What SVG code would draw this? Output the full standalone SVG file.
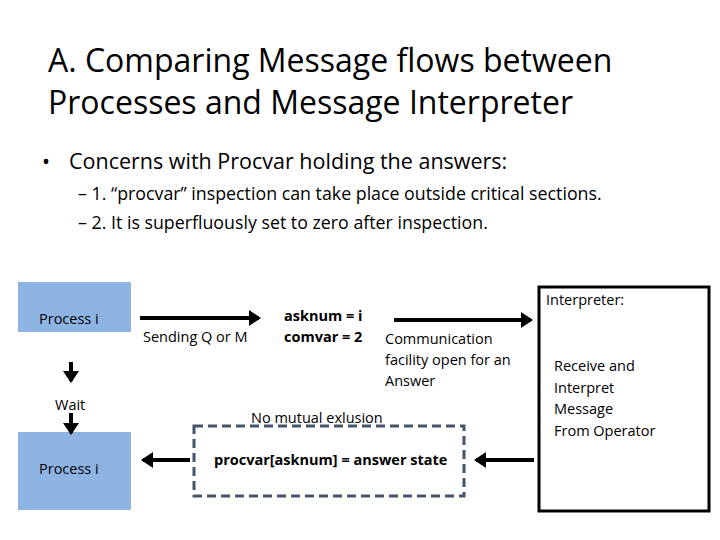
<svg xmlns="http://www.w3.org/2000/svg" width="720" height="540" viewBox="0 0 720 540">
<style>
text{font-family:"Open Sans","Liberation Sans",sans-serif;fill:#000}
.t{font-size:32px}
.b{font-size:21.5px}
.s{font-size:17.8px}
.n{font-size:14.5px}
.bd{font-size:14.5px;font-weight:bold}
.proc{fill:#8eb4e3}
.ar{stroke:#000;stroke-width:4;fill:none}
</style>
<defs><marker id="ah" markerWidth="4" markerHeight="4" refX="2.5" refY="2" orient="auto"><path d="M0,0L3,2L0,4z" fill="#000"/></marker></defs>
<rect width="720" height="540" fill="#fff"/>
<text class="t" x="48" y="72">A. Comparing Message flows between</text>
<text class="t" x="48" y="114">Processes and Message Interpreter</text>
<text class="b" x="42" y="169">•</text>
<text class="b" x="69" y="169">Concerns with Procvar holding the answers:</text>
<text class="s" x="78" y="200">– 1.  “procvar” inspection can take place outside critical sections.</text>
<text class="s" x="78" y="229">– 2.  It is superfluously set to zero after inspection.</text>
<g id="p1"><rect class="proc" x="18" y="282" width="113" height="50"/><text class="n" x="39" y="324">Process i</text></g>
<g id="p2"><rect class="proc" x="18" y="432" width="113" height="78"/><text class="n" x="39" y="474">Process i</text></g>
<g id="interp"><rect x="539" y="287" width="170" height="224" fill="#fff" stroke="#000" stroke-width="3"/>
<text class="n" x="546" y="305">Interpreter:</text>
<text class="n" x="554" y="371">Receive and</text><text class="n" x="554" y="393">Interpret</text><text class="n" x="554" y="414">Message</text><text class="n" x="554" y="436">From Operator</text></g>
<g id="state"><rect x="194" y="426" width="270" height="70" fill="none" stroke="#44546a" stroke-width="3" stroke-dasharray="9,5"/>
<text class="bd" x="214" y="465">procvar[asknum] = answer state</text></g>
<g id="labels">
<text class="n" x="143" y="342">Sending Q or M</text>
<text class="bd" x="284" y="321">asknum = i</text><text class="bd" x="284" y="342">comvar = 2</text>
<text class="n" x="385" y="344">Communication</text><text class="n" x="385" y="365">facility open for an</text><text class="n" x="385" y="386">Answer</text>
<text class="n" x="55" y="410">Wait</text>
<text class="n" x="251" y="423">No mutual exlusion</text>
</g>
<g id="connectors">
<line class="ar" x1="140" y1="318" x2="259" y2="318" marker-end="url(#ah)"/>
<line class="ar" x1="394" y1="320" x2="531" y2="320" marker-end="url(#ah)"/>
<line class="ar" x1="71" y1="362" x2="71" y2="381" marker-end="url(#ah)"/>
<line class="ar" x1="71" y1="413" x2="71" y2="433" marker-end="url(#ah)"/>
<line class="ar" x1="190" y1="460" x2="143" y2="460" marker-end="url(#ah)"/>
<line class="ar" x1="534" y1="460" x2="476" y2="460" marker-end="url(#ah)"/>
</g>
</svg>
